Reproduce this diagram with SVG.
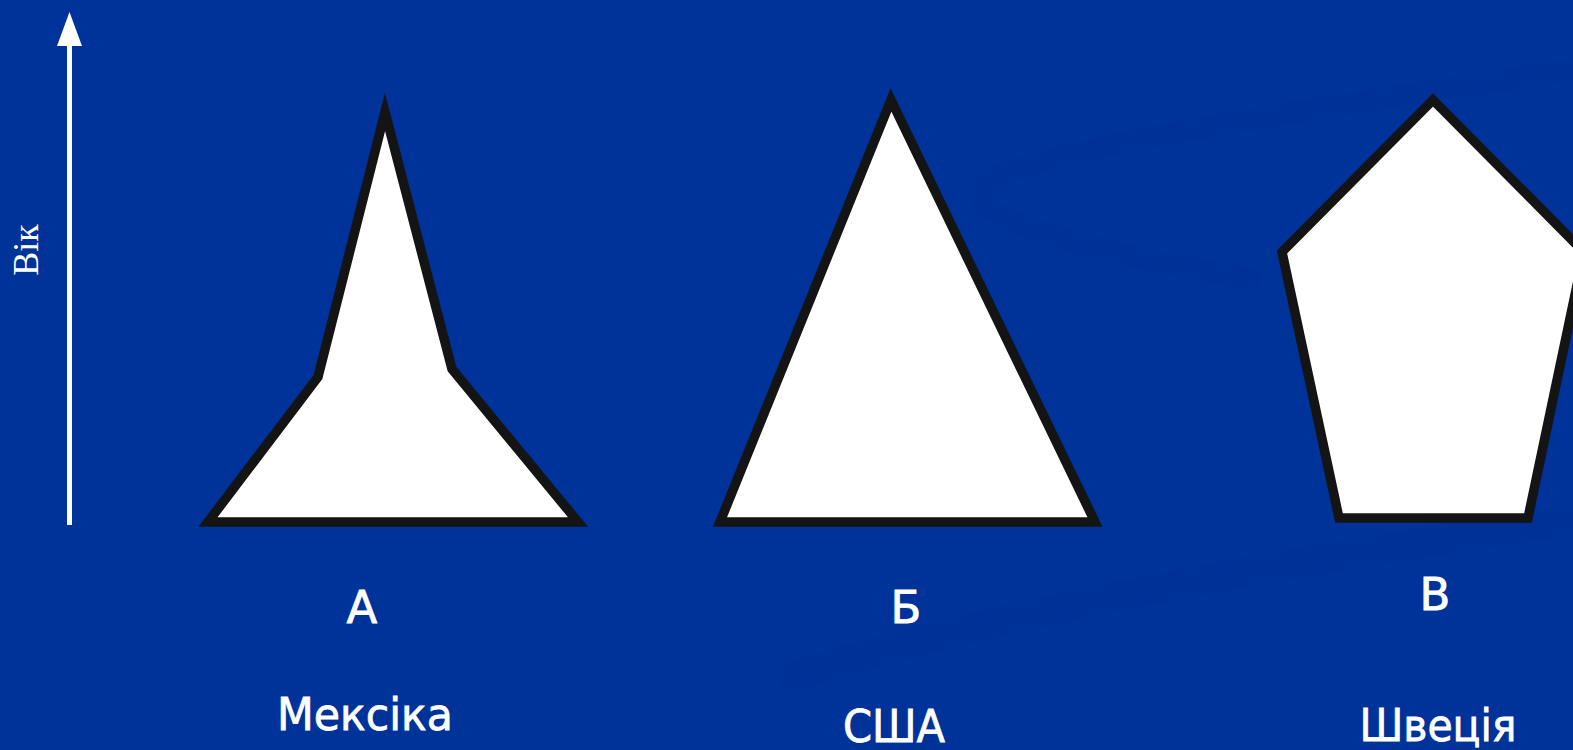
<svg xmlns="http://www.w3.org/2000/svg" width="1573" height="750" viewBox="0 0 1573 750">
  <defs>
    <style>
      .shape { fill: #ffffff; stroke: #141414; stroke-width: 9.5; stroke-linejoin: miter; stroke-miterlimit: 10; }
      .lbl { fill: #ffffff; font-family: "DejaVu Sans", "Noto Sans", sans-serif; font-size: 45px; text-anchor: middle; stroke: #ffffff; stroke-width: 0.8; }
      .swoosh { fill: none; stroke: #002a8a; stroke-opacity: 0.18; }
    </style>
  </defs>

  <rect x="0" y="0" width="1573" height="750" fill="#003399"/>

  <g id="background-swooshes">
    <path class="swoosh" stroke-width="22" d="M1573,70 C1300,110 1040,150 990,180 C940,215 1100,255 1260,280"/>
    <path class="swoosh" stroke-width="30" d="M780,680 C1000,610 1300,560 1573,520"/>
  </g>

  <g id="axis">
    <line x1="69.5" y1="525" x2="69.5" y2="45" stroke="#ffffff" stroke-width="5"/>
    <path d="M57,46 L69.5,12 L82,46 Z" fill="#ffffff"/>
    <text x="0" y="0" transform="translate(38,250) rotate(-90)" fill="#ffffff" font-family="Liberation Serif, Times New Roman, serif" font-size="36" text-anchor="middle">Вік</text>
  </g>

  <g id="node-a">
    <polygon class="shape" points="385,112 452,369 578,522 208,522 318,377"/>
    <text class="lbl" x="362" y="623">А</text>
    <text class="lbl" x="365" y="730" textLength="176" lengthAdjust="spacingAndGlyphs">Мексіка</text>
  </g>

  <g id="node-b">
    <polygon class="shape" points="891,100 1095,522 720,522"/>
    <text class="lbl" x="906" y="623">Б</text>
    <text class="lbl" x="894" y="742" textLength="102" lengthAdjust="spacingAndGlyphs">США</text>
  </g>

  <g id="node-c">
    <polygon class="shape" points="1433,100 1584,252 1528,518 1339,518 1282,252"/>
    <text class="lbl" x="1435" y="610">В</text>
    <text class="lbl" x="1438" y="741" textLength="157" lengthAdjust="spacingAndGlyphs">Швеція</text>
  </g>
</svg>
